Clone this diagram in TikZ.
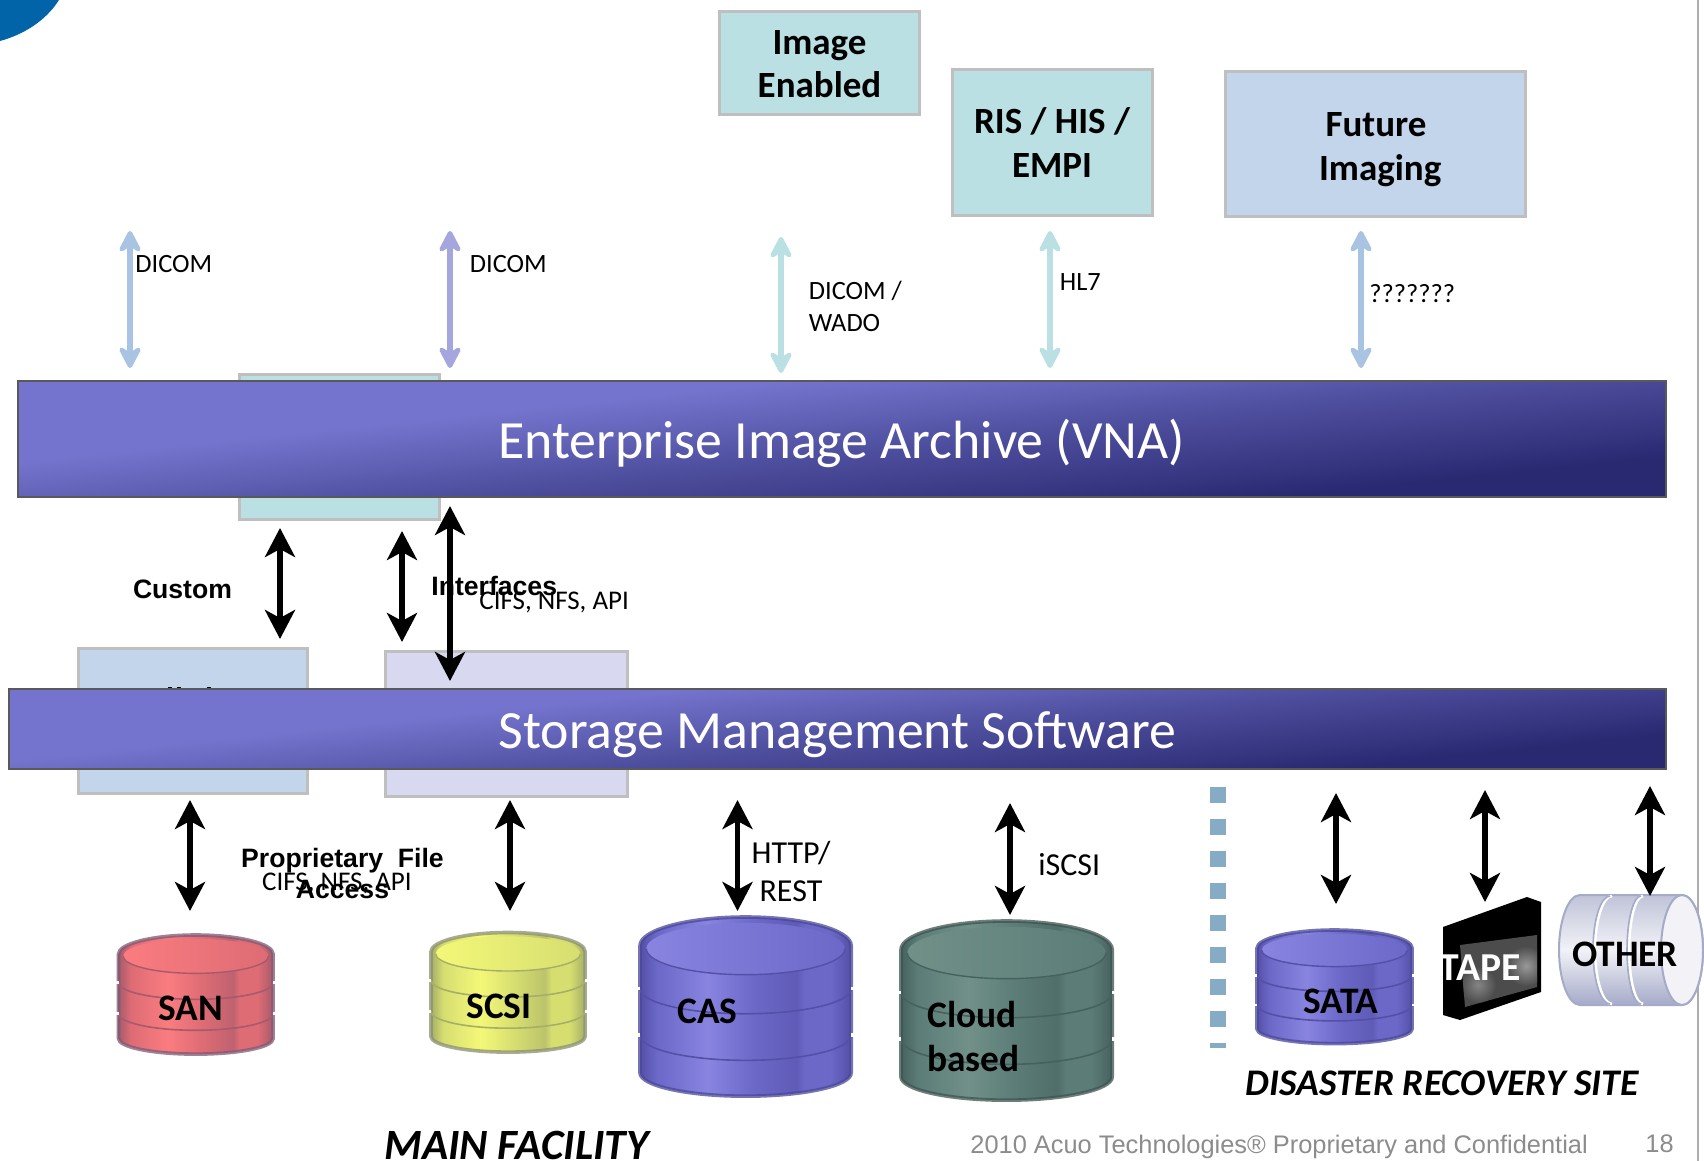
\documentclass[tikz,border=0pt]{standalone}
\usepackage{fontspec}
\setmainfont{Carlito}
\newfontfamily\arialfont{Liberation Sans}
\usetikzlibrary{arrows.meta}

\definecolor{bardark}{HTML}{292972}
\definecolor{barmid}{HTML}{4E4E9E}
\definecolor{barlight}{HTML}{7474CE}
\colorlet{dbL}{white}
\colorlet{dbM}{gray}
\colorlet{dbD}{black}
\pgfdeclarehorizontalshading[dbL,dbM,dbD]{dbbody}{100bp}{color(0bp)=(dbD); color(25bp)=(dbD); color(29bp)=(dbM); color(41bp)=(dbL); color(52bp)=(dbM); color(62bp)=(dbD!55!dbM); color(64bp)=(dbM); color(70bp)=(dbM); color(75bp)=(dbD); color(100bp)=(dbD)}
\pgfdeclareverticalshading{barshade}{100bp}{color(0bp)=(bardark); color(30bp)=(bardark); color(47bp)=(barmid); color(62bp)=(barlight); color(100bp)=(barlight)}

\definecolor{boxteal}{HTML}{BBE0E3}
\definecolor{boxblue}{HTML}{C3D5EA}
\definecolor{boxlav}{HTML}{D8D8F0}
\definecolor{arrowblue}{HTML}{A9C4E2}
\definecolor{arrowlav}{HTML}{A6A6DF}
\definecolor{footgray}{HTML}{8C8C8C}
\definecolor{cornerblue}{HTML}{0264A8}
\definecolor{dividerblue}{HTML}{85ABC5}
\definecolor{drumedge}{HTML}{A5AAC8}

\definecolor{sanL}{HTML}{FA7C80}\definecolor{sanM}{HTML}{DE6C74}\definecolor{sanD}{HTML}{A65A6C}\definecolor{sanE}{HTML}{7E5A74}
\definecolor{scsiL}{HTML}{F4F878}\definecolor{scsiM}{HTML}{D6DE70}\definecolor{scsiD}{HTML}{A6AE68}\definecolor{scsiE}{HTML}{8A9070}
\definecolor{casL}{HTML}{8884E0}\definecolor{casM}{HTML}{6C68C8}\definecolor{casD}{HTML}{5450A8}\definecolor{casE}{HTML}{4A4898}
\definecolor{cloudL}{HTML}{709088}\definecolor{cloudM}{HTML}{5C7C78}\definecolor{cloudD}{HTML}{46625E}\definecolor{cloudE}{HTML}{3E5450}

\newcommand{\dbstack}[5]{%
\begin{scope}[shift={(#1,#2)},x=#3*0.005pt,y=-#4*0.005pt]
\colorlet{dbL}{#5L}\colorlet{dbM}{#5M}\colorlet{dbD}{#5D}
\shade [shading=dbbody,draw=#5E,draw opacity=0.75,line width=1.8pt] (0,16) -- (0,87) arc[start angle=180,end angle=0,x radius=50,y radius=13] -- (100,16) arc[start angle=0,end angle=-180,x radius=50,y radius=16] -- cycle;
\foreach \y in {40,66}
{
\draw [#5D,line width=0.8pt] (0,\y) arc[start angle=180,end angle=0,x radius=50,y radius=14];
\fill [white] (-2,\y-1) rectangle (0,\y+1);
\fill [white] (100,\y-1) rectangle (102,\y+1);
}
\shade [left color=#5L,right color=#5M] (50,17.7) ellipse [x radius=47,y radius=14.5];
\draw [#5D,line width=0.7pt] (3,17.7) arc[start angle=180,end angle=0,x radius=47,y radius=14.5];
\end{scope}}

\tikzset{
  stdbox/.style={draw=black!25,line width=1.5pt,inner sep=0pt,align=center,text=black,font=\bfseries\fontsize{18.5}{22.2}\selectfont},
  boxlabel/.style={inner sep=0pt,align=center,font=\bfseries\fontsize{18.5}{22.2}\selectfont},
  archbar/.style={draw=black!65,line width=1pt,shade,shading=barshade,shading angle=6,inner sep=0pt},
  bartext/.style={inner sep=0pt,text=white,font=\fontsize{26.9}{30}\selectfont},
  lightarrow/.style={line width=3pt,line join=round,{Stealth[length=13.5pt,width=14pt,inset=4.5pt,round]}-{Stealth[length=13.5pt,width=14pt,inset=4.5pt,round]}},
  blackarrow/.style={black,line width=2.7pt,{Stealth[length=14.5pt,width=15pt,inset=4pt]}-{Stealth[length=14.5pt,width=15pt,inset=4pt]}},
  smalltext/.style={inner sep=0pt,align=left,font=\fontsize{13.2}{16}\selectfont},
  arialtext/.style={inner sep=0pt,align=center,font=\arialfont\bfseries\fontsize{13.3}{15.5}\selectfont},
  drivetext/.style={inner sep=0pt,align=left,font=\bfseries\fontsize{18.7}{22}\selectfont},
  sitetext/.style={inner sep=0pt,font=\bfseries\itshape\fontsize{18}{22}\selectfont},
  foottext/.style={inner sep=0pt,text=footgray,font=\arialfont\fontsize{12.7}{16}\selectfont}
}

\begin{document}
\begin{tikzpicture}[x=0.5pt,y=-0.5pt]
\useasboundingbox (0,0) rectangle (1704,1161);
\fill [white] (0,0) rectangle (1704,1161);

%Corner and edge
\fill [cornerblue] (0,0) -- (59,0) .. controls (45,22) and (22,35) .. (0,41) -- cycle;
\draw [black!32,line width=1pt] (1698,0) -- (1698,1161);

%Top boxes
\node (imageBox) [stdbox,fill=boxteal,minimum width=100pt,minimum height=51.5pt] at (819,63) {};
\node (imageLabel) [boxlabel,font=\bfseries\fontsize{18.5}{21.2}\selectfont] at (819.5,64) {Image\\Enabled};
\node (risBox) [stdbox,fill=boxteal,minimum width=100pt,minimum height=73pt] at (1052,142.5) {RIS / HIS /\\EMPI};
\node (futureBox) [stdbox,fill=boxblue,minimum width=150pt,minimum height=72.5pt] at (1375.5,144) {};
\node (futureLabel) [boxlabel] at (1376,149.5) {Future\\\ Imaging};

%Boxes behind the bars
\node (viewerBox) [stdbox,fill=boxteal,minimum width=100pt,minimum height=72.5pt] at (339.5,447) {};
\node (blockBox) [stdbox,fill=boxblue,minimum width=114.5pt,minimum height=72.5pt] at (193,721) {};
\node (fileBox) [stdbox,fill=boxlav,minimum width=121pt,minimum height=72.5pt] at (506.5,723.5) {};
\foreach \x in {170,179,209}
{
\fill [black] (\x-2,686.5) rectangle (\x+2,689);
}

%Bars
\node (vnaBar) [archbar,minimum width=824pt,minimum height=58pt] at (841.5,438.5) {};
\node (vnaLabel) [bartext] at (841.5,443) {Enterprise Image Archive (VNA)};
\node (storageBar) [archbar,minimum width=828.5pt,minimum height=40pt] at (837.5,729) {};
\node (storageLabel) [bartext] at (837.5,734.5) {Storage Management Software};

%Labels
\foreach \nm/\x/\y/\ytext in {dicomA/135/264/DICOM,dicomB/469.5/264/DICOM,wado/808.5/306/{DICOM /\\WADO},hl/1059.5/282/HL7,unknown/1369/294/???????}
\node (\nm) [smalltext,anchor=west] at (\x,\y) {\ytext};
\node (custom) [arialtext,anchor=west] at (132.6,589) {Custom};
\node (interfaces) [arialtext,anchor=west] at (431,586) {Interfaces};
\node (cifsA) [smalltext,anchor=west,font=\fontsize{13.5}{16}\selectfont] at (479,602) {CIFS, NFS, API};
\node (cifsB) [smalltext,anchor=center,font=\fontsize{13.5}{16}\selectfont] at (337,883) {CIFS, NFS, API};
\node (proprietary) [arialtext,anchor=center] at (342.5,873) {Proprietary\ \ File\\Access};
\node (http) [smalltext,align=center,font=\fontsize{16}{19}\selectfont] at (791,871) {HTTP/\\REST};
\node (iscsi) [smalltext,anchor=west,font=\fontsize{16}{19}\selectfont] at (1038,865) {iSCSI};

%Drives
\dbstack{118.5}{935}{154.5}{119}{san}
\dbstack{431}{932.5}{154}{119.5}{scsi}
\dbstack{640}{917}{211}{179}{cas}
\dbstack{901}{921}{211}{179}{cloud}
\dbstack{1257}{930}{155}{113.5}{cas}

%Tape
\fill [black] (1443,927) -- (1527,897) -- (1541,902) -- (1541,992) -- (1460,1020) -- (1443,1015) -- cycle;
\begin{scope}
\clip (1460,945) -- (1537,935) -- (1537,987) -- (1465,1007) -- cycle;
\fill [black!70] (1455,930) rectangle (1540,1010);
\shade [inner color=black!40,outer color=black!70] (1526,966) circle (20);
\shade [inner color=black!48,outer color=black!70] (1478,985) circle (18);
\end{scope}

%Silver drum
\shade [draw=drumedge,line width=1pt,top color=drumedge!70,bottom color=drumedge,middle color=drumedge!15] (1580,895) -- (1682,895) arc[start angle=-90,end angle=90,x radius=21,y radius=55] -- (1580,1005) arc[start angle=90,end angle=270,x radius=21,y radius=55] -- cycle;
\foreach \x/\r in {1610/17,1641/14}
{
\draw [white,line width=1.4pt] (\x+2,896) arc[start angle=-90,end angle=-270,x radius=\r,y radius=54];
\draw [drumedge,line width=0.8pt] (\x,896) arc[start angle=-90,end angle=-270,x radius=\r,y radius=54];
}
\draw [drumedge,line width=1pt,fill=drumedge!15] (1682,950) ellipse [x radius=21,y radius=55];

%Drive labels
\node (san) [drivetext] at (190.5,1008) {SAN};
\node (scsi) [drivetext] at (499,1006) {SCSI};
\node (cas) [drivetext,anchor=west] at (677,1011) {CAS};
\node (cloud) [drivetext,anchor=west] at (927,1037) {Cloud\\based};
\node (sata) [drivetext] at (1341,1001) {SATA};
\node (tape) [drivetext,text=white,font=\bfseries\fontsize{19.8}{22}\selectfont] at (1480,968) {TAPE};
\node (other) [drivetext] at (1625,954) {OTHER};

%Site divider
\draw [line width=8pt,draw=dividerblue,dash pattern=on 8pt off 8pt] (1218,787) -- (1218,1048);

%Arrows
\foreach \nm/\x/\ya/\yb/\col in {dicomA/130/231/368/arrowblue,dicomB/450/231/368/arrowlav,wado/781/237/373/boxteal,hl/1050/231/368/boxteal,unknown/1361/231/368/arrowblue}
{
\coordinate (\nm Top) at (\x,\ya);
\coordinate (\nm Bot) at (\x,\yb);
\draw [lightarrow,draw=\col,fill=\col] (\nm Top) -- (\nm Bot);
}
\foreach \nm/\x/\ya/\yb in {customA/280/528/639,customB/402/531/642,direct/450/506/681,sanLink/190/800/911,scsiLink/510/800/911,casLink/737.5/800/911,cloudLink/1010/803/915,sataLink/1336/793/904,tapeLink/1485/790/902,otherLink/1650/786/896}
{
\coordinate (\nm Top) at (\x,\ya);
\coordinate (\nm Bot) at (\x,\yb);
\draw [blackarrow] (\nm Top) -- (\nm Bot);
}

%Captions
\node (mainSite) [sitetext,anchor=west,font=\bfseries\itshape\fontsize{21.6}{25}\selectfont] at (384,1145) {MAIN FACILITY};
\node (drSite) [sitetext,anchor=west,font=\bfseries\itshape\fontsize{18.8}{22}\selectfont] at (1245,1083) {DISASTER RECOVERY SITE};
\node (footer) [foottext,anchor=west] at (970,1147) {2010 Acuo Technologies® Proprietary and Confidential};
\node (pageNo) [foottext,anchor=west] at (1645,1144) {18};

\end{tikzpicture}
\end{document}
